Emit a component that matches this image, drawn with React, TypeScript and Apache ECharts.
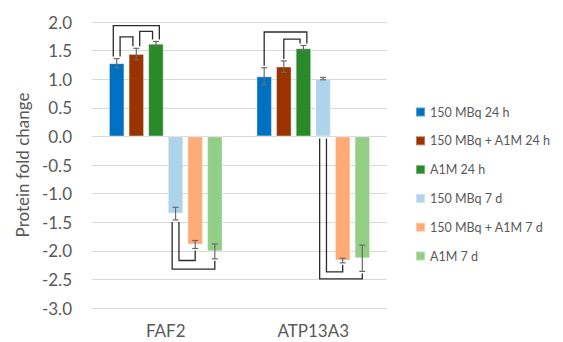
import React, { useEffect, useRef } from "react";
import * as echarts from "echarts";

const categories = ["FAF2", "ATP13A3"];
const seriesNames = [
  "150 MBq 24 h",
  "150 MBq + A1M 24 h",
  "A1M 24 h",
  "150 MBq 7 d",
  "150 MBq + A1M 7 d",
  "A1M 7 d",
];
const seriesColors = ["#0070C0", "#993300", "#2A8A2A", "#AED4EC", "#FFAB78", "#93CE86"];
// values per series: [FAF2, ATP13A3]
const values = [
  [1.28, 1.05],
  [1.44, 1.22],
  [1.62, 1.54],
  [-1.35, 1.01],
  [-1.89, -2.17],
  [-2.01, -2.13],
];
const errors = [
  [0.08, 0.15],
  [0.1, 0.1],
  [0.04, 0.05],
  [0.11, 0.02],
  [0.07, 0.04],
  [0.13, 0.23],
];
// significance brackets: [category, barA, barB, level, sideA, sideB]
const brackets = [
  [0, 0, 2, 1.935, -1, 1],
  [0, 0, 1, 1.74, 1, -1],
  [0, 1, 2, 1.835, 1, -1],
  [0, 3, 4, -2.17, 1, 0],
  [0, 3, 5, -2.32, -1, 0],
  [1, 0, 2, 1.825, 0, 1],
  [1, 1, 2, 1.7, 0, -1],
  [1, 3, 4, -2.37, 1, 0],
  [1, 3, 5, -2.49, -1, 0],
];
const yTicks = { min: -3, max: 2, interval: 0.5 };

const BAR_CAT_GAP = 0.23;
const BAR_GAP = 0.27;
const FONT = "Lato";
const TEXT = "#595959";

function barOffset(bandWidth: number, idx: number) {
  const n = seriesNames.length;
  const w = (bandWidth * (1 - BAR_CAT_GAP)) / (n + (n - 1) * BAR_GAP);
  const total = n * w + (n - 1) * BAR_GAP * w;
  return -total / 2 + idx * w * (1 + BAR_GAP) + w / 2;
}

export default function App() {
  const ref = useRef<HTMLDivElement>(null);
  useEffect(() => {
    if (!ref.current) return;
    const chart = echarts.init(ref.current, undefined, { renderer: "svg" });

    const errData: number[][] = [];
    values.forEach((arr, s) =>
      arr.forEach((v, c) => errData.push([c, s, v, errors[s][c]]))
    );

    const barSeries = seriesNames.map((name, s) => ({
      name,
      type: "bar",
      data: values[s],
      barGap: BAR_GAP * 100 + "%",
      barCategoryGap: BAR_CAT_GAP * 100 + "%",
      itemStyle: { color: seriesColors[s], borderColor: "rgba(255,255,255,0.35)", borderWidth: 1 },
    }));

    const option: any = {
      animation: false,
      textStyle: { fontFamily: FONT },
      grid: { left: 92, right: 176, top: 22, bottom: 34 },
      legend: {
        orient: "vertical",
        left: 410,
        top: 99,
        itemWidth: 9,
        itemHeight: 9,
        itemGap: 12.8,
        icon: "rect",
        textStyle: { fontFamily: FONT, fontSize: 12.5, color: TEXT, lineHeight: 16 },
        data: seriesNames,
      },
      xAxis: {
        type: "category",
        data: categories,
        axisLine: { show: false, onZero: false },
        axisTick: { show: false },
        axisLabel: { fontFamily: FONT, fontSize: 17, color: TEXT, margin: 14 },
      },
      yAxis: {
        type: "value",
        min: yTicks.min,
        max: yTicks.max,
        interval: yTicks.interval,
        name: "Protein fold change",
        nameLocation: "middle",
        nameGap: 59,
        nameTextStyle: { fontFamily: FONT, fontSize: 17, color: TEXT },
        axisLabel: {
          fontFamily: FONT,
          fontSize: 17,
          color: TEXT,
          margin: 20,
          formatter: (v: number) => v.toFixed(1),
        },
        splitLine: { lineStyle: { color: "#D9D9D9", width: 1 } },
        axisLine: { show: false },
        axisTick: { show: false },
      },
      series: [
        ...barSeries,
        {
          type: "custom",
          name: "err",
          silent: true,
          z: 5,
          data: errData,
          renderItem: (params: any, api: any) => {
            const c = api.value(0);
            const s = api.value(1);
            const v = api.value(2);
            const e = api.value(3);
            const bw = api.size([1, 0])[0];
            const cx = api.coord([c, 0])[0] + barOffset(bw, s);
            const yt = api.coord([c, v + e])[1];
            const yb = api.coord([c, v - e])[1];
            const cap = 3;
            const style = { stroke: "#6A6A6A", lineWidth: 1.2 };
            return {
              type: "group",
              children: [
                { type: "line", shape: { x1: cx, y1: yt, x2: cx, y2: yb }, style },
                { type: "line", shape: { x1: cx - cap, y1: yt, x2: cx + cap, y2: yt }, style },
                { type: "line", shape: { x1: cx - cap, y1: yb, x2: cx + cap, y2: yb }, style },
              ],
            };
          },
        },
        {
          type: "custom",
          name: "brackets",
          silent: true,
          z: 6,
          data: brackets,
          renderItem: (params: any, api: any) => {
            const c = api.value(0);
            const a = api.value(1);
            const b = api.value(2);
            const level = api.value(3);
            const sa = api.value(4);
            const sb = api.value(5);
            const bw = api.size([1, 0])[0];
            const x0 = api.coord([c, 0])[0];
            const side = 3.4;
            const gap = 2;
            const xa = x0 + barOffset(bw, a) + sa * side;
            const xb = x0 + barOffset(bw, b) + sb * side;
            const yl = api.coord([c, level])[1];
            const endY = (idx: number) => {
              const v = values[idx][c];
              const e = errors[idx][c];
              if (level > 0) {
                return api.coord([c, Math.max(v + e, 0)])[1] - gap;
              }
              return api.coord([c, Math.min(v - e, 0)])[1] + gap;
            };
            return {
              type: "polyline",
              shape: {
                points: [
                  [xa, endY(a)],
                  [xa, yl],
                  [xb, yl],
                  [xb, endY(b)],
                ],
              },
              style: { stroke: "#2B2B2B", lineWidth: 1.3, fill: null },
            };
          },
        },
      ],
    };
    chart.setOption(option);
    return () => chart.dispose();
  }, []);
  return (
    <div
      ref={ref}
      style={{ position: "fixed", left: 0, top: 0, width: 563, height: 342, background: "#fff" }}
    />
  );
}
